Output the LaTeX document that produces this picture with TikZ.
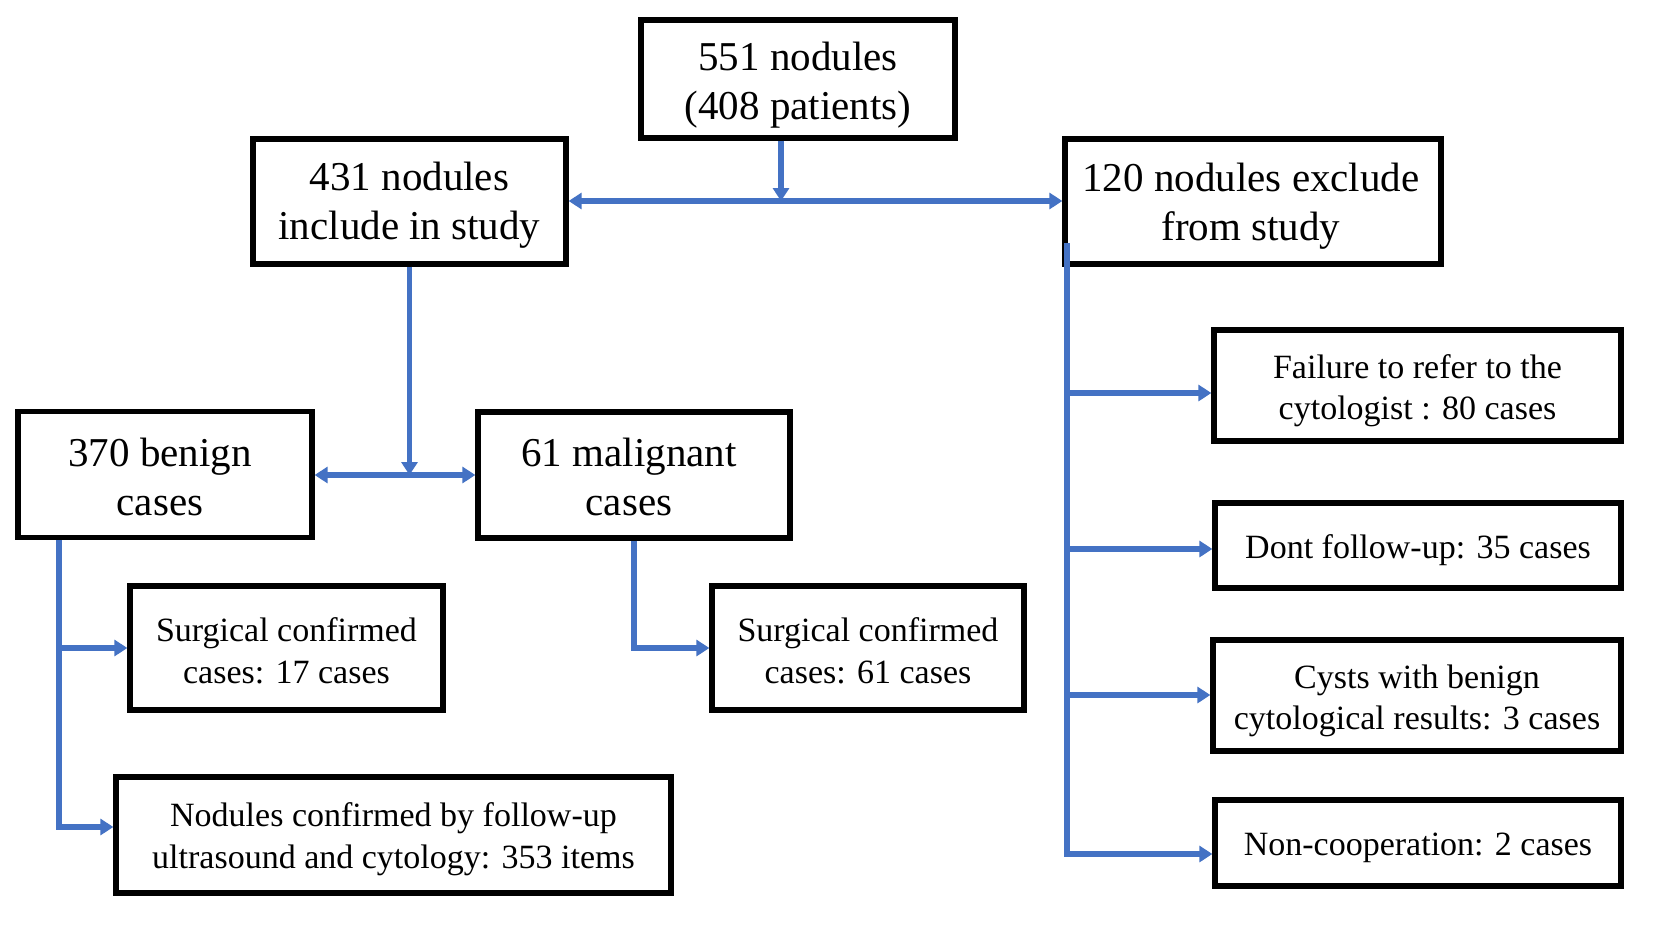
\documentclass[tikz,border=0pt]{standalone}
\usepackage{fontspec}
\setmainfont{Liberation Serif}
\usetikzlibrary{arrows.meta}
\definecolor{lineblue}{HTML}{4472C4}
% shifted text block: #1 horizontal shift, #2 vertical shift (negative = down), #3 lines
\newcommand\shtxt[3]{\raisebox{#2}[\height][\depth]{\hspace*{#1}\begin{tabular}{@{}c@{}}#3\end{tabular}\hspace*{-#1}}}
\tikzset{
  box/.style={draw=black, line width=5.3pt, inner sep=0pt, align=center},
  bigtext/.style={font=\fontsize{41}{49}\selectfont},
  smalltext/.style={font=\fontsize{34}{41.5}\selectfont},
  link/.style={draw=lineblue, line width=5.2pt},
  arr/.style={link, -{Triangle[length=13pt,width=16pt]}},
  darr/.style={link, {Triangle[length=13pt,width=16pt]}-{Triangle[length=13pt,width=16pt]}}
}
\begin{document}
\begin{tikzpicture}[x=1pt,y=-1pt]
\useasboundingbox[fill=white] (0,0) rectangle (1654,929);
% boxes
\node[box,bigtext,minimum width=314pt,minimum height=118pt] (A) at (798,79) {\shtxt{0pt}{-6pt}{551 nodules\\(408 patients)}};
\node[box,bigtext,minimum width=313pt,minimum height=125pt] (B) at (409.5,201.5) {\shtxt{0pt}{-4pt}{431 nodules\\include in study}};
\node[box,bigtext,minimum width=376pt,minimum height=125pt] (C) at (1253,201.5) {\shtxt{-2pt}{-5pt}{120 nodules exclude\\from study}};
\node[box,bigtext,minimum width=294pt,minimum height=126pt] (D) at (165,474.5) {\shtxt{-5pt}{-7pt}{370 benign\\cases}};
\node[box,bigtext,minimum width=312pt,minimum height=126pt] (E) at (634,475) {\shtxt{-5pt}{-6pt}{61 malignant\\cases}};
\node[box,smalltext,minimum width=313pt,minimum height=124pt] (F) at (286.5,648) {\shtxt{0pt}{-6pt}{Surgical confirmed\\cases: 17 cases}};
\node[box,smalltext,minimum width=555pt,minimum height=116pt] (G) at (393.5,835) {\shtxt{0pt}{-4pt}{Nodules confirmed by follow-up\\ultrasound and cytology: 353 items}};
\node[box,smalltext,minimum width=312pt,minimum height=124pt] (H) at (868,648) {\shtxt{0pt}{-6pt}{Surgical confirmed\\cases: 61 cases}};
\node[box,smalltext,minimum width=407pt,minimum height=111pt] (I) at (1417.5,385.5) {\shtxt{0pt}{-5pt}{Failure to refer to the\\cytologist : 80 cases}};
\node[box,smalltext,minimum width=406pt,minimum height=85pt] (J) at (1418,545.5) {\shtxt{0pt}{-5pt}{Dont follow-up: 35 cases}};
\node[box,smalltext,minimum width=408pt,minimum height=111pt] (K) at (1417,695.5) {\shtxt{0pt}{-5pt}{Cysts with benign\\cytological results: 3 cases}};
\node[box,smalltext,minimum width=406pt,minimum height=86pt] (L) at (1418,843) {\shtxt{0pt}{-4pt}{Non-cooperation: 2 cases}};
% top split
\coordinate (a1) at (781,201);
\draw[arr] (A.south -| a1) -- (a1);
\draw[darr] (B.east |- a1) -- (C.west |- a1);
% split of included
\coordinate (b1) at (409.5,475);
\draw[arr] (B.south) -- (b1);
\draw[darr] (D.east |- b1) -- (E.west |- b1);
% benign branch
\coordinate (lf) at (59,648);
\coordinate (lg) at (59,827);
\draw[arr] (D.south -| lg) -- (lg) -- (lg -| G.west);
\draw[arr] (lf) -- (lf -| F.west);
% malignant branch
\coordinate (mh) at (634,648);
\draw[arr] (E.south) -- (mh) -- (mh -| H.west);
% excluded branch
\coordinate (r0) at (1067,243);
\coordinate (ri) at (1067,393);
\coordinate (rj) at (1067,549);
\coordinate (rk) at (1067,695);
\coordinate (rl) at (1067,854);
\draw[arr] (r0) -- (rl) -- (rl -| L.west);
\draw[arr] (ri) -- (ri -| I.west);
\draw[arr] (rj) -- (rj -| J.west);
\draw[arr] (rk) -- (rk -| K.west);
\end{tikzpicture}
\end{document}
